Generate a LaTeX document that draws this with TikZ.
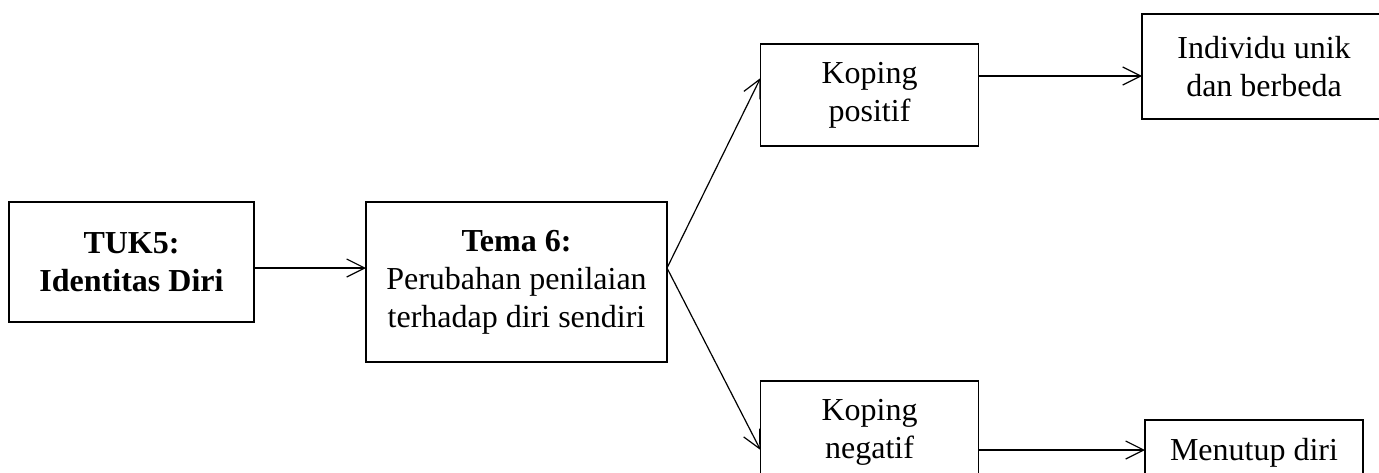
\documentclass[tikz,border=0pt]{standalone}
\usepackage{fontspec}
\setmainfont{Liberation Serif}
\usetikzlibrary{arrows.meta}
\tikzset{
kotak/.style={draw,line width=0.6pt,inner sep=0pt,outer sep=0pt,align=center,font=\fontsize{16pt}{19pt}\selectfont},
panah/.style={line width=0.6pt,-{Straight Barb[length=9pt,width=9pt]}}
}
\begin{document}
\begin{tikzpicture}[x=0.5pt,y=-0.5pt]
\clip(0,0)rectangle(1379,472);
\node[kotak,minimum width=122.5pt,minimum height=60pt](tuk) at (131.5,262){\textbf{TUK5:}\\\textbf{Identitas Diri}};
\node[kotak,minimum width=150.5pt,minimum height=80pt](tema) at (516.5,282){\textbf{Tema 6:}\\Perubahan penilaian\\terhadap diri sendiri};
\node[kotak,minimum width=109pt,minimum height=51pt](kpos) at (869.5,95){Koping\\positif};
\node[kotak,minimum width=109pt,minimum height=51pt](kneg) at (869.5,432){Koping\\negatif};
\node[kotak,minimum width=122pt,minimum height=52.5pt](indiv) at (1264,66.5){Individu unik\\dan berbeda};
\node[kotak,minimum width=109pt,minimum height=32.5pt,anchor=north](tutup) at (1254,420){Menutup diri};
\coordinate(pisah) at ([yshift=7pt]tema.east);
\coordinate(ka) at ([yshift=9.5pt]kpos.east);
\coordinate(kb) at ([yshift=-9pt]kneg.east);
\draw[panah](tuk.east|-pisah)--(tema.west|-pisah);
\draw[panah](pisah)--([yshift=8.5pt]kpos.west);
\draw[panah](pisah)--([yshift=-9pt]kneg.west);
\draw[panah](ka)--(indiv.west|-ka);
\draw[panah](kb)--(tutup.west|-kb);
\end{tikzpicture}
\end{document}
